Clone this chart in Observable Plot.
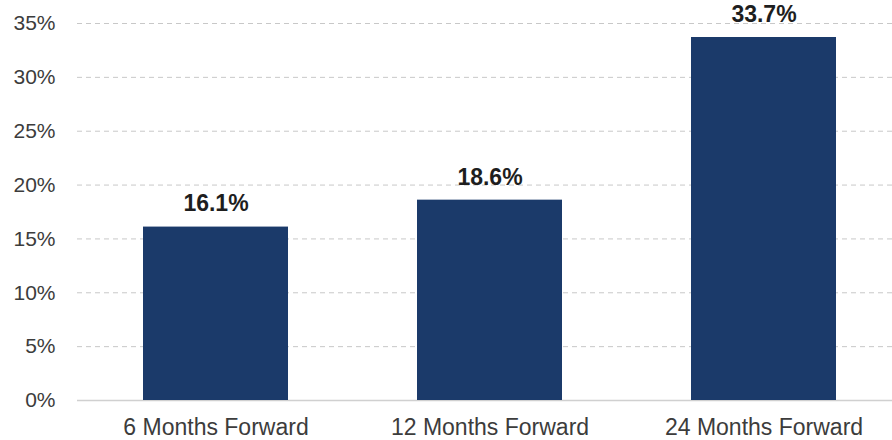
<!DOCTYPE html>
<html>
<head>
<meta charset="utf-8">
<script src="https://cdn.jsdelivr.net/npm/d3@7"></script>
<script src="https://cdn.jsdelivr.net/npm/@observablehq/plot@0.6"></script>
<style>
  html, body { margin: 0; padding: 0; background: #ffffff; }
  #chart svg { display: block; }
</style>
</head>
<body>
<div id="chart"></div>
<script>
const categories = ["6 Months Forward", "12 Months Forward", "24 Months Forward"];
const values = [16.1, 18.6, 33.7];
const yTicks = [0, 5, 10, 15, 20, 25, 30, 35];

const data = categories.map((c, i) => ({category: c, value: values[i]}));
const gridTicks = yTicks.filter(t => t > 0);

const chart = Plot.plot({
  width: 892,
  height: 440,
  marginLeft: 77,
  marginRight: 0,
  marginTop: 23,
  marginBottom: 40,
  style: {fontFamily: "'Liberation Sans', Arial, sans-serif", background: "#ffffff"},
  x: {domain: categories, range: [77, 903], paddingInner: 0.47, paddingOuter: 0.24, label: null},
  y: {domain: [0, 35], label: null},
  marks: [
    Plot.ruleY(gridTicks, {stroke: "#c8c8c8", strokeWidth: 1, strokeDasharray: "5,4"}),
    Plot.ruleY([0], {stroke: "#d0d0d0", strokeWidth: 1.5}),
    Plot.barY(data, {x: "category", y: "value", fill: "#1b3a6a"}),
    Plot.text(data, {
      x: "category", y: "value",
      text: d => d.value.toFixed(1) + "%",
      lineAnchor: "middle", dy: -23,
      fontSize: 23, fontWeight: "bold", fill: "#1e1e1e"
    }),
    Plot.axisY({
      ticks: yTicks, tickFormat: d => d + "%", tickSize: 0, tickPadding: 22,
      fontSize: 21, fill: "#3c3c3c", label: null
    }),
    Plot.axisX({
      tickSize: 0, tickPadding: 18, fontSize: 23, fill: "#3c3c3c", label: null
    })
  ]
});
document.getElementById("chart").appendChild(chart);
</script>
</body>
</html>
